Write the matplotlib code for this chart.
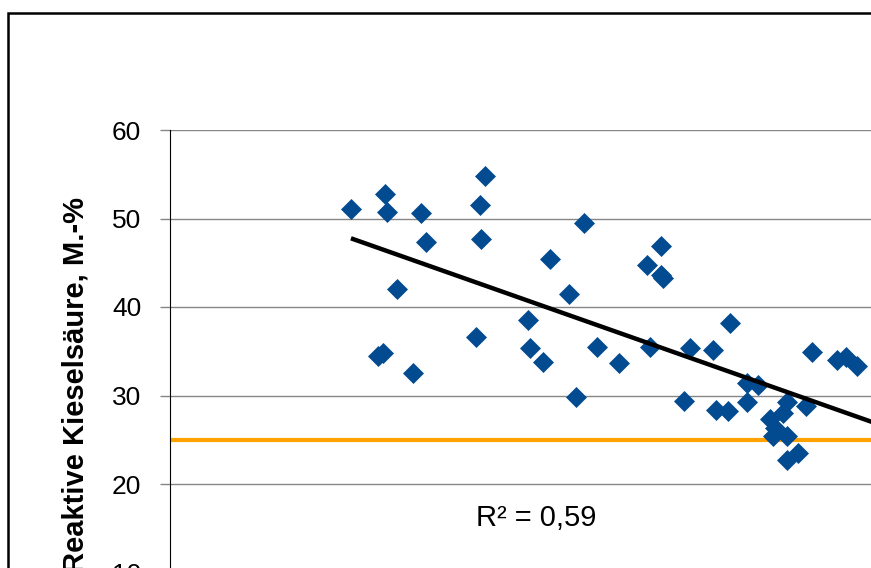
from matplotlib import pyplot as plt
import matplotlib.patches as mpatches
import numpy as np

# scatter values (x in arbitrary units, the x axis is cut off in the source)
x_vals = [21.8, 25.9, 26.1, 30.2, 30.8, 27.3, 38.0, 37.3, 37.5, 49.9,
          45.8, 48.1, 43.1, 36.9, 43.4, 44.9, 51.4, 54.1, 25.1, 25.7,
          29.3, 48.9, 59.2, 57.5, 59.2, 59.4, 67.5, 57.8, 62.7, 65.4,
          77.3, 80.4, 81.4, 82.8, 69.5, 70.8, 61.9, 65.8, 67.2, 69.5,
          74.3, 76.6, 72.3, 73.9, 72.7, 74.3, 74.3, 75.7, 72.9]
y_vals = [51.1, 52.8, 50.7, 50.6, 47.3, 42.0, 54.8, 51.5, 47.7, 49.5,
          45.4, 41.5, 38.5, 36.6, 35.4, 33.8, 35.5, 33.7, 34.5, 34.8,
          32.5, 29.8, 46.9, 44.7, 43.6, 43.3, 38.2, 35.5, 35.4, 35.1,
          34.9, 34.0, 34.4, 33.3, 31.4, 31.2, 29.4, 28.4, 28.2, 29.3,
          29.3, 28.8, 27.3, 28.0, 25.4, 25.4, 22.7, 23.5, 26.3]

# linear trend (y = a + b*x)
trend_a = 54.97
trend_b = -0.3306
trend_x = [21.8, 100]

limit_y = 25
r2_label = "R² = 0,59"
y_label = "Reaktive Kieselsäure, M.-%"
y_ticks = [0, 10, 20, 30, 40, 50, 60]

plt.rcParams['font.family'] = ['Liberation Sans', 'DejaVu Sans']

W, H = 871, 568
fig = plt.figure(figsize=(W / 100, H / 100), dpi=100)

# axes run past the right and bottom edge of the picture (cropped chart)
ax = fig.add_axes([170 / W, (H - 661) / H, 830 / W, 531 / H])
ax.set_xlim(0, 100)
ax.set_ylim(0, 60)

ax.axhline(limit_y, color='#FFA200', linewidth=3, zorder=2)
ax.plot(x_vals, y_vals, linestyle='none', marker='D', markersize=10.3,
        color='#034B90', markeredgecolor='#034B90', markeredgewidth=0.5, zorder=3)
tx = np.array(trend_x)
ax.plot(tx, trend_a + trend_b * tx, color='black', linewidth=3.2, zorder=4,
        solid_capstyle='butt')

ax.set_yticks(y_ticks)
ax.set_yticklabels([str(t) for t in y_ticks], fontsize=19)
ax.set_xticks([])
ax.grid(axis='y', color='#868686', linewidth=1.0)
ax.set_axisbelow(True)
ax.tick_params(axis='y', direction='out', length=7.2, width=1.0,
               color='#868686', pad=13.5)

for side in ['top', 'right', 'bottom']:
    ax.spines[side].set_visible(False)
ax.spines['left'].set_color('black')
ax.spines['left'].set_linewidth(0.8)
ax.spines['left'].set_zorder(5)

ax.text(44.1, 15.3, r2_label, fontsize=21, ha='center', va='baseline')

fig.text(76 / W, 1 - 197 / H, y_label, rotation=90, fontsize=21,
         fontweight='bold', ha='center', va='top')

# outer chart frame (only left and top visible in the crop)
frame = mpatches.Rectangle((7.5 / W, -1), 2, 1 + (1 - 12.5 / H),
                           transform=fig.transFigure, fill=False,
                           edgecolor='black', linewidth=1.8)
fig.patches.append(frame)

fig.savefig('out.png', dpi=100)
